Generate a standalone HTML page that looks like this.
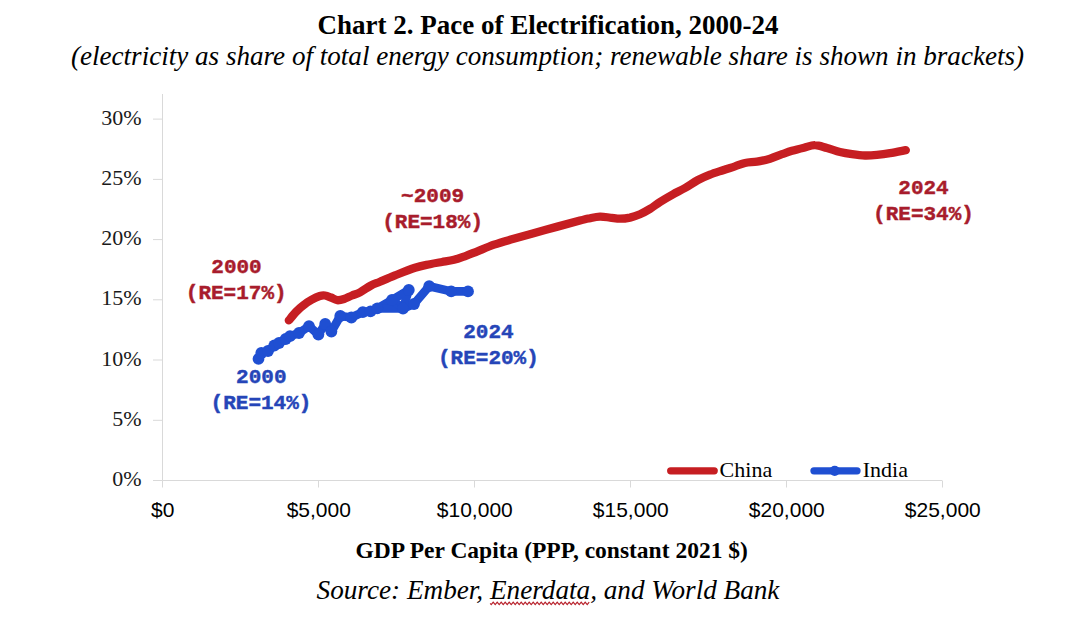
<!DOCTYPE html>
<html><head><meta charset="utf-8"><style>
html,body{margin:0;padding:0;background:#fff;width:1068px;height:628px;overflow:hidden}
svg{display:block}
</style></head><body>
<svg width="1068" height="628" viewBox="0 0 1068 628">
<rect width="1068" height="628" fill="#fff"/>
<text x="548" y="33.7" text-anchor="middle" font-family="'Liberation Serif', serif" font-weight="bold" font-size="27" fill="#000">Chart 2. Pace of Electrification, 2000-24</text>
<text x="547.5" y="64.6" text-anchor="middle" font-family="'Liberation Serif', serif" font-style="italic" font-size="27.1" fill="#000">(electricity as share of total energy consumption; renewable share is shown in brackets)</text>
<g stroke="#d9d9d9" stroke-width="1" fill="none">
<line x1="162.5" y1="94" x2="162.5" y2="480.5"/>
<line x1="162.5" y1="480.5" x2="942" y2="480.5"/>
<line x1="153" y1="480.5" x2="162.5" y2="480.5"/><line x1="153" y1="420.3" x2="162.5" y2="420.3"/><line x1="153" y1="360.0" x2="162.5" y2="360.0"/><line x1="153" y1="299.8" x2="162.5" y2="299.8"/><line x1="153" y1="239.6" x2="162.5" y2="239.6"/><line x1="153" y1="179.4" x2="162.5" y2="179.4"/><line x1="153" y1="119.1" x2="162.5" y2="119.1"/><line x1="162.5" y1="480.5" x2="162.5" y2="487.5"/><line x1="318.5" y1="480.5" x2="318.5" y2="487.5"/><line x1="474.5" y1="480.5" x2="474.5" y2="487.5"/><line x1="630.5" y1="480.5" x2="630.5" y2="487.5"/><line x1="786.5" y1="480.5" x2="786.5" y2="487.5"/><line x1="942.5" y1="480.5" x2="942.5" y2="487.5"/>
</g>
<g font-family="'Liberation Serif', serif" font-size="22" fill="#1a1a1a" text-anchor="end"><text x="141.7" y="486.0">0%</text><text x="141.7" y="425.8">5%</text><text x="141.7" y="365.5">10%</text><text x="141.7" y="305.3">15%</text><text x="141.7" y="245.1">20%</text><text x="141.7" y="184.9">25%</text><text x="141.7" y="124.6">30%</text></g>
<g font-family="'Liberation Sans', sans-serif" font-size="21" fill="#000" text-anchor="middle"><text x="162.8" y="517.3">$0</text><text x="318.8" y="517.3">$5,000</text><text x="474.8" y="517.3">$10,000</text><text x="630.8" y="517.3">$15,000</text><text x="786.8" y="517.3">$20,000</text><text x="942.8" y="517.3">$25,000</text></g>
<path d="M288.8,320.4 C290.0,319.0 293.4,314.6 295.9,312.0 C298.4,309.4 301.2,306.9 303.9,304.9 C306.5,302.8 309.1,301.2 311.8,299.7 C314.5,298.2 317.6,296.7 319.8,296.0 C322.0,295.3 323.1,295.2 325.0,295.5 C326.9,295.8 328.9,296.7 331.0,297.5 C333.1,298.3 335.1,299.9 337.3,300.2 C339.5,300.4 341.6,299.8 344.0,299.0 C346.4,298.2 349.3,296.6 352.0,295.5 C354.7,294.4 356.8,294.0 360.0,292.3 C363.2,290.6 367.7,287.3 371.0,285.5 C374.3,283.7 376.0,283.4 380.0,281.7 C384.0,280.0 389.2,277.7 395.0,275.4 C400.8,273.1 409.2,269.7 415.0,267.8 C420.8,265.9 425.5,265.2 430.0,264.2 C434.5,263.2 438.0,262.7 442.0,262.0 C446.0,261.3 450.0,260.8 454.0,259.8 C458.0,258.8 462.0,257.2 466.0,255.8 C470.0,254.4 473.3,252.9 478.0,251.1 C482.7,249.2 488.7,246.6 494.0,244.7 C499.3,242.8 501.5,242.2 510.0,239.8 C518.5,237.4 533.3,233.2 545.0,230.0 C556.7,226.8 572.5,222.6 580.0,220.6 C587.5,218.6 586.7,218.9 590.0,218.2 C593.3,217.5 596.7,216.7 600.0,216.6 C603.3,216.5 606.7,217.2 610.0,217.6 C613.3,217.9 616.7,218.7 620.0,218.7 C623.3,218.7 626.7,218.3 630.0,217.6 C633.3,216.8 636.7,215.6 640.0,214.2 C643.3,212.8 646.7,210.9 650.0,208.9 C653.3,206.9 656.2,204.4 660.0,202.0 C663.8,199.6 668.8,196.6 673.0,194.3 C677.2,192.0 680.8,190.4 685.0,188.0 C689.2,185.6 693.8,182.2 698.0,180.0 C702.2,177.8 705.8,176.2 710.0,174.6 C714.2,173.0 718.8,171.6 723.0,170.2 C727.2,168.8 731.3,167.6 735.0,166.4 C738.7,165.2 741.3,163.8 745.0,163.0 C748.7,162.2 752.8,162.3 757.0,161.6 C761.2,160.9 765.8,159.9 770.0,158.7 C774.2,157.5 778.3,155.5 782.0,154.2 C785.7,152.9 788.3,151.9 792.0,150.8 C795.7,149.7 800.2,148.6 804.0,147.7 C807.8,146.8 811.2,145.1 815.0,145.2 C818.8,145.2 822.8,146.9 827.0,148.0 C831.2,149.1 835.8,151.0 840.0,152.0 C844.2,153.0 847.8,153.6 852.0,154.2 C856.2,154.8 860.8,155.4 865.0,155.5 C869.2,155.6 872.8,155.3 877.0,154.9 C881.2,154.5 885.2,154.0 890.0,153.2 C894.8,152.4 903.2,150.6 905.8,150.1" fill="none" stroke="#c61e22" stroke-width="8.3" stroke-linecap="round" stroke-linejoin="round"/>
<g fill="none" stroke="#1f4fd2" stroke-width="8.6" stroke-linecap="round" stroke-linejoin="round">
<path d="M258.5,358.9 L261.3,353.0 L268.0,351.0 L274.3,345.5 L279.0,343.0 L285.7,339.0 L290.0,336.2 L299.0,333.0 L309.0,326.2 L318.4,334.5 L325.2,324.0 L331.4,331.5 L340.3,316.0 L351.4,317.5 L362.8,312.2 L370.5,311.3 L377.3,308.4 L392.0,300.0 L408.8,290.0 L403.0,308.5 L414.0,304.0 L429.2,286.2 L451.2,291.4 L468.0,291.4"/><path d="M377.3,308.4 L403.0,308.5"/><path d="M392.0,300.0 L403.0,308.5"/>
</g>
<g fill="#1f4fd2"><circle cx="258.5" cy="358.9" r="5.9"/><circle cx="261.3" cy="353" r="5.9"/><circle cx="268" cy="351" r="5.9"/><circle cx="274.3" cy="345.5" r="5.9"/><circle cx="279" cy="343" r="5.9"/><circle cx="285.7" cy="339" r="5.9"/><circle cx="290" cy="336.2" r="5.9"/><circle cx="299" cy="333" r="5.9"/><circle cx="309" cy="326.2" r="5.9"/><circle cx="318.4" cy="334.5" r="5.9"/><circle cx="325.2" cy="324" r="5.9"/><circle cx="331.4" cy="331.5" r="5.9"/><circle cx="340.3" cy="316" r="5.9"/><circle cx="351.4" cy="317.5" r="5.9"/><circle cx="362.8" cy="312.2" r="5.9"/><circle cx="370.5" cy="311.3" r="5.9"/><circle cx="377.3" cy="308.4" r="5.9"/><circle cx="392" cy="300" r="5.9"/><circle cx="408.8" cy="290" r="5.9"/><circle cx="403" cy="308.5" r="5.9"/><circle cx="414" cy="304" r="5.9"/><circle cx="429.2" cy="286.2" r="5.9"/><circle cx="451.2" cy="291.4" r="5.9"/><circle cx="468" cy="291.4" r="5.9"/></g>
<g font-family="'Liberation Mono', monospace" font-weight="bold" font-size="21" text-anchor="middle" stroke-width="0.45" style="paint-order:stroke">
<text x="236.5" y="272.5" fill="#a81c2c" stroke="#a81c2c">2000</text>
<text x="236.2" y="298.9" fill="#a81c2c" stroke="#a81c2c">(RE=17%)</text>
<text x="432.6" y="201.9" fill="#a81c2c" stroke="#a81c2c">~2009</text>
<text x="432.6" y="227.8" fill="#a81c2c" stroke="#a81c2c">(RE=18%)</text>
<text x="923.5" y="193.7" fill="#a81c2c" stroke="#a81c2c">2024</text>
<text x="923.5" y="220.1" fill="#a81c2c" stroke="#a81c2c">(RE=34%)</text>
<text x="261.3" y="382.6" fill="#2545b8" stroke="#2545b8">2000</text>
<text x="261" y="409.4" fill="#2545b8" stroke="#2545b8">(RE=14%)</text>
<text x="488.4" y="337.6" fill="#2545b8" stroke="#2545b8">2024</text>
<text x="488.4" y="364.4" fill="#2545b8" stroke="#2545b8">(RE=20%)</text>
</g>
<line x1="670.7" y1="470.8" x2="714.2" y2="470.8" stroke="#c61e22" stroke-width="7.3" stroke-linecap="round"/>
<text x="719.6" y="476.9" font-family="'Liberation Serif', serif" font-size="22" fill="#000">China</text>
<line x1="814" y1="470.8" x2="857" y2="470.8" stroke="#1f4fd2" stroke-width="7.3" stroke-linecap="round"/>
<circle cx="834.7" cy="470.8" r="5.1" fill="#1f4fd2"/>
<text x="862.7" y="476.9" font-family="'Liberation Serif', serif" font-size="22" fill="#000">India</text>
<text x="551.7" y="557.8" text-anchor="middle" font-family="'Liberation Serif', serif" font-weight="bold" font-size="23.5" fill="#000">GDP Per Capita (PPP, constant 2021 $)</text>
<text x="548" y="598.8" text-anchor="middle" font-family="'Liberation Serif', serif" font-style="italic" font-size="27.2" fill="#000">Source: Ember, Enerdata, and World Bank</text>
<path d="M490.2,603.4 L491.2,604.6 L492.2,603.4 L493.2,602.2 L494.2,603.4 L495.2,604.6 L496.2,603.4 L497.2,602.2 L498.2,603.4 L499.2,604.6 L500.2,603.4 L501.2,602.2 L502.2,603.4 L503.2,604.6 L504.2,603.4 L505.2,602.2 L506.2,603.4 L507.2,604.6 L508.2,603.4 L509.2,602.2 L510.2,603.4 L511.2,604.6 L512.2,603.4 L513.2,602.2 L514.2,603.4 L515.2,604.6 L516.2,603.4 L517.2,602.2 L518.2,603.4 L519.2,604.6 L520.2,603.4 L521.2,602.2 L522.2,603.4 L523.2,604.6 L524.2,603.4 L525.2,602.2 L526.2,603.4 L527.2,604.6 L528.2,603.4 L529.2,602.2 L530.2,603.4 L531.2,604.6 L532.2,603.4 L533.2,602.2 L534.2,603.4 L535.2,604.6 L536.2,603.4 L537.2,602.2 L538.2,603.4 L539.2,604.6 L540.2,603.4 L541.2,602.2 L542.2,603.4 L543.2,604.6 L544.2,603.4 L545.2,602.2 L546.2,603.4 L547.2,604.6 L548.2,603.4 L549.2,602.2 L550.2,603.4 L551.2,604.6 L552.2,603.4 L553.2,602.2 L554.2,603.4 L555.2,604.6 L556.2,603.4 L557.2,602.2 L558.2,603.4 L559.2,604.6 L560.2,603.4 L561.2,602.2 L562.2,603.4 L563.2,604.6 L564.2,603.4 L565.2,602.2 L566.2,603.4 L567.2,604.6 L568.2,603.4 L569.2,602.2 L570.2,603.4 L571.2,604.6 L572.2,603.4 L573.2,602.2 L574.2,603.4 L575.2,604.6 L576.2,603.4 L577.2,602.2 L578.2,603.4 L579.2,604.6 L580.2,603.4 L581.2,602.2 L582.2,603.4 L583.2,604.6 L584.2,603.4 L585.2,602.2 L586.2,603.4 L587.2,604.6 L588.2,603.4 L589.2,602.2" fill="none" stroke="#b8222c" stroke-width="1.2"/>
</svg>
</body></html>
